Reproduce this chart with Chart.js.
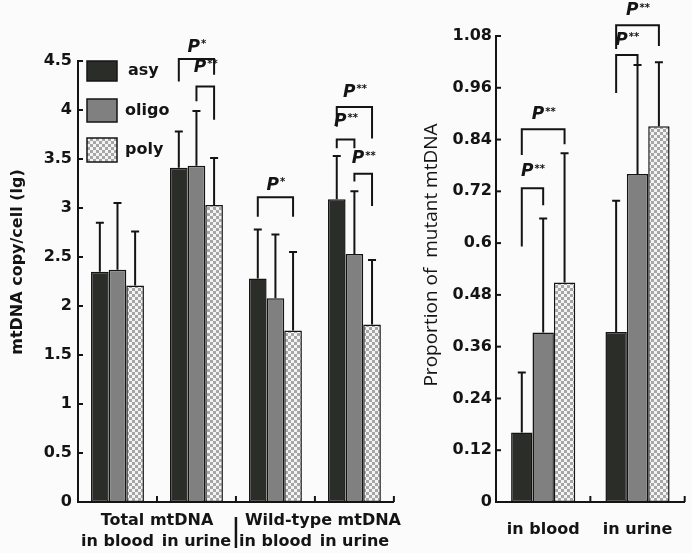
<!DOCTYPE html>
<html>
<head>
<meta charset="utf-8">
<script src="https://cdn.jsdelivr.net/npm/chart.js@4"></script>
<style>
body { margin: 0; background: #fbfbfb; }
#wrap { position: relative; width: 692px; height: 553px; }
#copy_chart { position: absolute; left: 0; top: 0; }
#mut_chart { position: absolute; left: 420px; top: 0; }
</style>
</head>
<body>
<div id="wrap">
<canvas id="copy_chart" width="420" height="553"></canvas>
<canvas id="mut_chart" width="272" height="553"></canvas>
</div>
<script>
// data
var groupNames = ["asy", "oligo", "poly"];

var copyLabels = ["in blood", "in urine", "in blood", "in urine"];
var copyAsy    = [2.35, 3.41, 2.28, 3.09];
var copyOligo  = [2.37, 3.43, 2.08, 2.53];
var copyPoly   = [2.21, 3.03, 1.75, 1.81];
var copyAsySd   = [0.50, 0.37, 0.50, 0.44];
var copyOligoSd = [0.68, 0.56, 0.65, 0.64];
var copyPolySd  = [0.55, 0.48, 0.80, 0.66];
var copyGroupTitles = ["Total mtDNA", "Wild-type mtDNA"];

var mutLabels = ["in blood", "in urine"];
var mutAsy    = [0.161, 0.394];
var mutOligo  = [0.393, 0.760];
var mutPoly   = [0.509, 0.871];
var mutAsySd   = [0.139, 0.304];
var mutOligoSd = [0.264, 0.253];
var mutPolySd  = [0.299, 0.148];

// significance brackets: group, from bar, to bar, bracket top, leg ends, label height (axis units)
var copyBrackets = [
    {g: 1, a: 0, b: 2, top: 4.52, legA: 4.29, legB: 4.36, ly: 4.64, text: "*"},
    {g: 1, a: 1, b: 2, top: 4.24, legA: 4.09, legB: 3.90, ly: 4.43, text: "**"},
    {g: 2, a: 0, b: 2, top: 3.11, legA: 2.91, legB: 2.91, ly: 3.23, text: "*"},
    {g: 3, a: 0, b: 2, top: 4.03, legA: 3.83, legB: 3.71, ly: 4.18, text: "**"},
    {g: 3, a: 0, b: 1, top: 3.70, legA: 3.61, legB: 3.61, ly: 3.88, text: "**"},
    {g: 3, a: 1, b: 2, top: 3.35, legA: 3.27, legB: 3.02, ly: 3.50, text: "**"}
];
var mutBrackets = [
    {g: 0, a: 0, b: 1, top: 0.727, legA: 0.592, legB: 0.688, ly: 0.765, text: "**"},
    {g: 0, a: 0, b: 2, top: 0.864, legA: 0.804, legB: 0.829, ly: 0.897, text: "**"},
    {g: 1, a: 0, b: 1, top: 1.036, legA: 0.948, legB: 1.013, ly: 1.070, text: "**"},
    {g: 1, a: 0, b: 2, top: 1.105, legA: 1.050, legB: 1.057, ly: 1.138, text: "**"}
];

var FONT = "DejaVu Sans";
var INK = "#141414";
Chart.defaults.font.family = FONT;
Chart.defaults.font.size = 16;
Chart.defaults.font.weight = "bold";
Chart.defaults.color = INK;

function makePattern() {
    var t = document.createElement("canvas");
    t.width = 6; t.height = 6;
    var c = t.getContext("2d");
    c.fillStyle = "#f4f4f4";
    c.fillRect(0, 0, 6, 6);
    c.fillStyle = "#a6a6a6";
    c.fillRect(0, 0, 3, 3);
    c.fillRect(3, 3, 3, 3);
    return c.createPattern(t, "repeat");
}
var polyFill = makePattern();
var fills = ["#2b2d29", "#808080", polyFill];

function makeDatasets(values, sds) {
    return values.map(function(v, i) {
        return {
            label: groupNames[i],
            data: v,
            sd: sds[i],
            backgroundColor: fills[i],
            borderColor: INK,
            borderWidth: 1.5,
            borderSkipped: false
        };
    });
}

// error bars, brackets, inner ticks
var decorPlugin = {
    id: "decor",
    afterDatasetsDraw: function(chart) {
        var ctx = chart.ctx;
        var ys = chart.scales.y;
        var xs = chart.scales.x;
        var area = chart.chartArea;
        ctx.save();
        ctx.strokeStyle = INK;
        ctx.lineWidth = 2;
        // error bars (upper only)
        chart.data.datasets.forEach(function(ds, d) {
            var meta = chart.getDatasetMeta(d);
            meta.data.forEach(function(el, i) {
                var yTop = ys.getPixelForValue(ds.data[i] + ds.sd[i]);
                ctx.beginPath();
                ctx.moveTo(el.x, el.y);
                ctx.lineTo(el.x, yTop);
                ctx.moveTo(el.x - 4, yTop);
                ctx.lineTo(el.x + 4, yTop);
                ctx.stroke();
            });
        });
        // inner y ticks
        ys.ticks.forEach(function(t, i) {
            var py = ys.getPixelForTick(i);
            ctx.beginPath();
            ctx.moveTo(area.left, py);
            ctx.lineTo(area.left + 5, py);
            ctx.stroke();
        });
        // category boundary ticks on x axis
        var half = (xs.getPixelForTick(1) - xs.getPixelForTick(0)) / 2;
        xs.ticks.forEach(function(t, i) {
            var px = xs.getPixelForTick(i) + half;
            ctx.beginPath();
            ctx.moveTo(px, area.bottom);
            ctx.lineTo(px, area.bottom - 6);
            ctx.stroke();
        });
        // significance brackets
        var brackets = chart.options.plugins.decor.brackets;
        brackets.forEach(function(br) {
            var xa = chart.getDatasetMeta(br.a).data[br.g].x;
            var xb = chart.getDatasetMeta(br.b).data[br.g].x;
            var yt = ys.getPixelForValue(br.top);
            ctx.beginPath();
            ctx.moveTo(xa, ys.getPixelForValue(br.legA));
            ctx.lineTo(xa, yt);
            ctx.lineTo(xb, yt);
            ctx.lineTo(xb, ys.getPixelForValue(br.legB));
            ctx.stroke();
            var cy = ys.getPixelForValue(br.ly);
            ctx.font = "italic bold 17px " + FONT;
            var wP = ctx.measureText("P").width;
            ctx.font = "bold 10px " + FONT;
            var wS = ctx.measureText(br.text).width;
            var x0 = (xa + xb) / 2 - (wP + wS) / 2;
            ctx.fillStyle = INK;
            ctx.textBaseline = "middle";
            ctx.textAlign = "left";
            ctx.font = "italic bold 17px " + FONT;
            ctx.fillText("P", x0, cy);
            ctx.font = "bold 10px " + FONT;
            ctx.fillText(br.text, x0 + wP + 1, cy - 3);
        });
        // rotated y title
        var tt = chart.options.plugins.decor.title;
        ctx.translate(tt.x, tt.y);
        ctx.rotate(-Math.PI / 2);
        ctx.font = tt.font;
        ctx.textAlign = "center";
        ctx.textBaseline = "middle";
        ctx.fillText(tt.text, 0, 0);
        ctx.restore();
    }
};

// legend and two-row category titles for left panel
var copyExtras = {
    id: "copyExtras",
    afterDraw: function(chart) {
        var ctx = chart.ctx;
        var xs = chart.scales.x;
        ctx.save();
        var boxes = [[61, 20], [99, 23], [138, 24]];
        boxes.forEach(function(b, i) {
            ctx.fillStyle = fills[i];
            ctx.fillRect(87, b[0], 30, b[1]);
            ctx.strokeStyle = INK;
            ctx.lineWidth = 1.5;
            ctx.strokeRect(87, b[0], 30, b[1]);
            ctx.fillStyle = INK;
            ctx.font = "bold 16px " + FONT;
            ctx.textBaseline = "middle";
            ctx.textAlign = "left";
            ctx.fillText(groupNames[i], i == 0 ? 128 : 125, b[0] + b[1] / 2);
        });
        // "Total mtDNA" / "Wild-type mtDNA" centred over each pair
        ctx.textAlign = "center";
        var half = (xs.getPixelForTick(1) - xs.getPixelForTick(0)) / 2;
        copyGroupTitles.forEach(function(t, k) {
            var cx = xs.getPixelForTick(2 * k) + half + (k == 1 ? 8 : 0);
            ctx.fillText(t, cx, 521);
        });
        var sep = xs.getPixelForTick(1) + half;
        ctx.lineWidth = 2.5;
        ctx.beginPath();
        ctx.moveTo(sep, 517);
        ctx.lineTo(sep, 548);
        ctx.stroke();
        ctx.restore();
    }
};

function buildOptions(max, step, pads, tickPad, xPad, yWidth, brackets, title) {
    return {
        responsive: false,
        animation: false,
        layout: { padding: pads },
        plugins: {
            legend: { display: false },
            tooltip: { enabled: false },
            decor: { brackets: brackets, title: title }
        },
        scales: {
            x: {
                grid: { display: false, drawTicks: false },
                border: { display: true, color: INK, width: 2 },
                ticks: { padding: xPad, font: { size: 16, weight: "bold" } },
                afterFit: function(s) { s.height = 51; }
            },
            y: {
                min: 0,
                max: max,
                grid: { display: false, drawTicks: false },
                border: { display: true, color: INK, width: 2 },
                ticks: {
                    stepSize: step,
                    padding: tickPad,
                    font: { size: 16, weight: "bold" },
                    callback: function(v) { return String(Number(v.toFixed(2))); }
                },
                afterFit: function(s) { s.width = yWidth; }
            }
        }
    };
}

var chart_copy = new Chart(document.getElementById("copy_chart"), {
    type: "bar",
    data: {
        labels: copyLabels,
        datasets: makeDatasets([copyAsy, copyOligo, copyPoly], [copyAsySd, copyOligoSd, copyPolySd]).map(function(ds) {
            ds.categoryPercentage = 0.67;
            ds.barPercentage = 1.0;
            return ds;
        })
    },
    plugins: [decorPlugin, copyExtras],
    options: buildOptions(4.5, 0.5, {top: 61, right: 7, left: 0, bottom: 0}, 6, 30, 78,
        copyBrackets,
        {x: 18, y: 262, text: "mtDNA copy/cell (lg)", font: "bold 16px " + FONT})
});

var chart_mut = new Chart(document.getElementById("mut_chart"), {
    type: "bar",
    data: {
        labels: mutLabels,
        datasets: makeDatasets([mutAsy, mutOligo, mutPoly], [mutAsySd, mutOligoSd, mutPolySd]).map(function(ds) {
            ds.categoryPercentage = 0.68;
            ds.barPercentage = 1.0;
            return ds;
        })
    },
    plugins: [decorPlugin],
    options: buildOptions(1.08, 0.12, {top: 36, right: 7, left: 0, bottom: 0}, 4, 18, 76,
        mutBrackets,
        {x: 12, y: 255, text: "Proportion of  mutant mtDNA", font: "19px 'Open Sans'"})
});
</script>
</body>
</html>
